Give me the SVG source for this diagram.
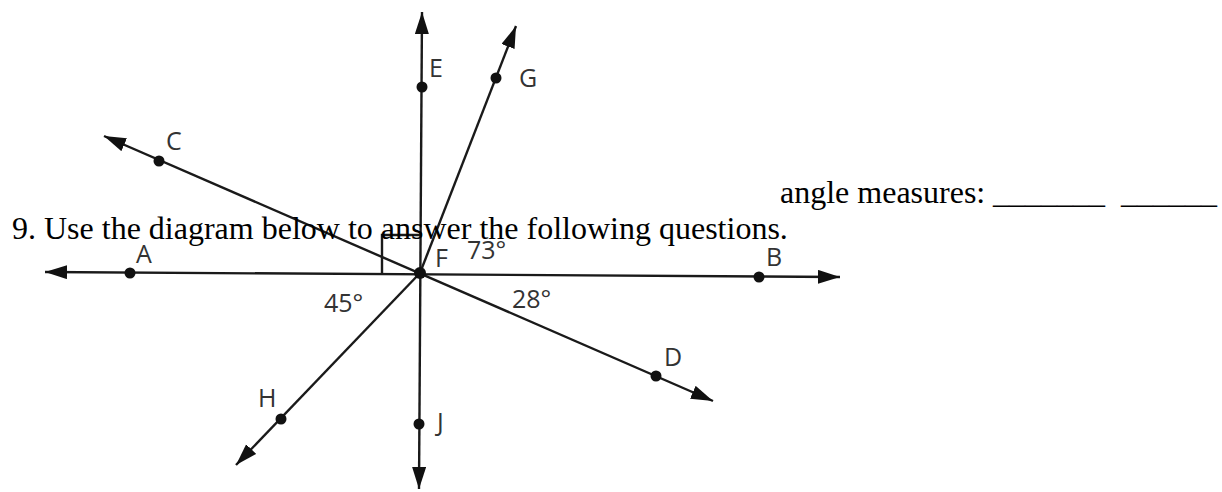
<svg xmlns="http://www.w3.org/2000/svg" width="1222" height="492" viewBox="0 0 1222 492">
<style>
.ln{stroke:#1a1a1a;stroke-width:2.4;fill:none}
.dot{fill:#111}
.lbl{font-family:"Open Sans","DejaVu Sans",sans-serif;font-size:25px;fill:#333}
.q{font-family:"Liberation Serif","Times New Roman",serif;font-size:32px;fill:#000}
</style>
<defs>
<marker id="ah" markerUnits="userSpaceOnUse" markerWidth="24" markerHeight="16" refX="22" refY="7" orient="auto-start-reverse">
<path d="M0,0 L22,7 L0,14 Z" fill="#111"/>
</marker>
</defs>
<rect width="1222" height="492" fill="#fff"/>
<g id="connectors">
<line class="ln" x1="45" y1="272" x2="840" y2="277" marker-start="url(#ah)" marker-end="url(#ah)"/>
<line class="ln" x1="422" y1="12" x2="419" y2="489" marker-start="url(#ah)" marker-end="url(#ah)"/>
<line class="ln" x1="104" y1="136" x2="713" y2="401" marker-start="url(#ah)" marker-end="url(#ah)"/>
<line class="ln" x1="420" y1="273" x2="516" y2="26" marker-end="url(#ah)"/>
<line class="ln" x1="420" y1="273" x2="236" y2="465" marker-end="url(#ah)"/>
<polyline class="ln" points="382,273 382,235 420,235"/>
</g>
<g id="F"><circle class="dot" cx="420" cy="273" r="6"/><text class="lbl" x="435" y="267">F</text></g>
<g id="A"><circle class="dot" cx="130" cy="273" r="5.5"/><text class="lbl" x="136" y="263">A</text></g>
<g id="B"><circle class="dot" cx="759" cy="277" r="5.5"/><text class="lbl" x="766" y="266">B</text></g>
<g id="C"><circle class="dot" cx="159" cy="161" r="5.5"/><text class="lbl" x="166" y="150">C</text></g>
<g id="D"><circle class="dot" cx="656" cy="376" r="5.5"/><text class="lbl" x="664" y="366">D</text></g>
<g id="E"><circle class="dot" cx="422" cy="87" r="5.5"/><text class="lbl" x="429" y="77">E</text></g>
<g id="G"><circle class="dot" cx="496" cy="78" r="5.5"/><text class="lbl" x="519" y="87">G</text></g>
<g id="H"><circle class="dot" cx="281" cy="419" r="5.5"/><text class="lbl" x="258" y="407">H</text></g>
<g id="J"><circle class="dot" cx="419" cy="424" r="5.5"/><text class="lbl" x="437" y="431">J</text></g>
<g id="angles">
<text class="lbl" x="467" y="259">73°</text>
<text class="lbl" x="512" y="308">28°</text>
<text class="lbl" x="324" y="312">45°</text>
</g>
<g id="question">
<text class="q" x="12" y="239">9. Use the diagram below to answer the following questions.</text>
<text class="q" x="780" y="203">angle measures:</text>
<text class="q" x="993" y="203">_______</text>
<text class="q" x="1121" y="203">______</text>
</g>
</svg>
